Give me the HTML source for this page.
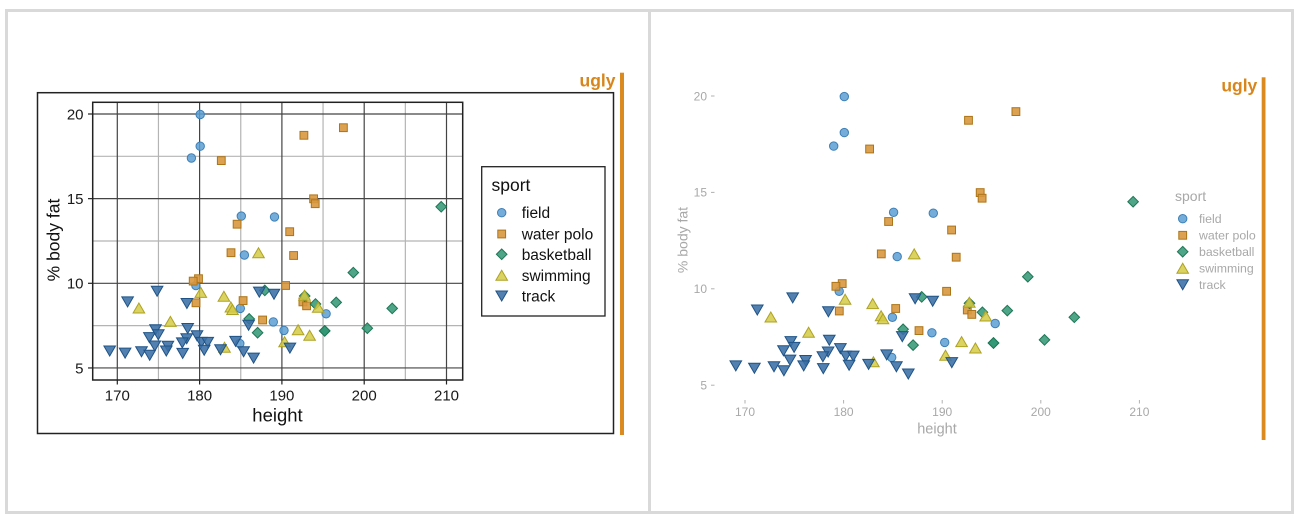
<!DOCTYPE html>
<html><head><meta charset="utf-8"><style>
html,body{margin:0;padding:0;background:#fff;}
svg{display:block;font-family:"Liberation Sans",sans-serif;}
</style></head><body>
<svg width="1301" height="517" viewBox="0 0 1301 517" xmlns="http://www.w3.org/2000/svg">
<defs>
<circle id="c" r="4.2"/>
<rect id="s" x="-3.9" y="-3.9" width="7.8" height="7.8"/>
<path id="d" d="M0,-5.3 L5.3,0 L0,5.3 L-5.3,0Z"/>
<path id="u" d="M0,-5 L5.8,5 L-5.8,5Z"/>
<path id="t" d="M-5.8,-5 L5.8,-5 L0,5Z"/>
</defs>
<rect x="0" y="0" width="1301" height="517" fill="#fff"/>
<rect x="6.5" y="10.5" width="1286" height="502" fill="none" stroke="#d9d9d9" stroke-width="3"/>
<line x1="649.5" y1="9" x2="649.5" y2="514" stroke="#d9d9d9" stroke-width="3"/>

<!-- LEFT PANEL -->
<rect x="37.5" y="92.7" width="576" height="340.8" fill="none" stroke="#222" stroke-width="1.5"/>
<g stroke="#b4b4b4" stroke-width="1.2">
<line x1="158.45" y1="102.3" x2="158.45" y2="380"/>
<line x1="240.75" y1="102.3" x2="240.75" y2="380"/>
<line x1="323.05" y1="102.3" x2="323.05" y2="380"/>
<line x1="405.35" y1="102.3" x2="405.35" y2="380"/>
<line x1="92.7" y1="156.3" x2="462.7" y2="156.3"/>
<line x1="92.7" y1="241" x2="462.7" y2="241"/>
<line x1="92.7" y1="325.6" x2="462.7" y2="325.6"/>
</g>
<g stroke="#444" stroke-width="1.2">
<line x1="117.3" y1="102.3" x2="117.3" y2="380"/>
<line x1="199.6" y1="102.3" x2="199.6" y2="380"/>
<line x1="281.9" y1="102.3" x2="281.9" y2="380"/>
<line x1="364.2" y1="102.3" x2="364.2" y2="380"/>
<line x1="446.5" y1="102.3" x2="446.5" y2="380"/>
<line x1="92.7" y1="114" x2="462.7" y2="114"/>
<line x1="92.7" y1="198.65" x2="462.7" y2="198.65"/>
<line x1="92.7" y1="283.3" x2="462.7" y2="283.3"/>
<line x1="92.7" y1="367.95" x2="462.7" y2="367.95"/>
</g>
<rect x="92.7" y="102.3" width="370" height="277.7" fill="none" stroke="#222" stroke-width="1.5"/>
<g stroke="#222" stroke-width="1.2">
<line x1="88" y1="114" x2="92.7" y2="114"/>
<line x1="88" y1="198.65" x2="92.7" y2="198.65"/>
<line x1="88" y1="283.3" x2="92.7" y2="283.3"/>
<line x1="88" y1="367.95" x2="92.7" y2="367.95"/>
<line x1="117.3" y1="380" x2="117.3" y2="384.5"/>
<line x1="199.6" y1="380" x2="199.6" y2="384.5"/>
<line x1="281.9" y1="380" x2="281.9" y2="384.5"/>
<line x1="364.2" y1="380" x2="364.2" y2="384.5"/>
<line x1="446.5" y1="380" x2="446.5" y2="384.5"/>
</g>
<g font-size="15" fill="#1a1a1a" text-anchor="end">
<text x="83.5" y="119.3">20</text>
<text x="83.5" y="204">15</text>
<text x="83.5" y="288.6">10</text>
<text x="83.5" y="373.3">5</text>
</g>
<g font-size="15" fill="#1a1a1a" text-anchor="middle">
<text x="117.3" y="400.5">170</text>
<text x="199.6" y="400.5">180</text>
<text x="281.9" y="400.5">190</text>
<text x="364.2" y="400.5">200</text>
<text x="446.5" y="400.5">210</text>
</g>
<text x="277.5" y="421.5" font-size="18.5" fill="#111" text-anchor="middle">height</text>
<text transform="translate(59.5,240) rotate(-90)" font-size="17.5" fill="#111" text-anchor="middle">% body fat</text>

<!-- left points -->
<g fill="#5d9fd3" fill-opacity="0.85" stroke="#3d7fb6" stroke-width="1">
<use href="#c" x="200.2" y="114.5"/><use href="#c" x="200.2" y="146.2"/><use href="#c" x="191.4" y="158"/>
<use href="#c" x="241.3" y="216.1"/><use href="#c" x="274.5" y="216.9"/><use href="#c" x="244.4" y="255"/>
<use href="#c" x="195.9" y="285.5"/><use href="#c" x="240.3" y="308.4"/><use href="#c" x="326.1" y="313.8"/>
<use href="#c" x="273.3" y="321.9"/><use href="#c" x="284" y="330.4"/><use href="#c" x="239.8" y="343.6"/>
</g>
<g fill="#d8983f" fill-opacity="0.9" stroke="#ad7418" stroke-width="1">
<use href="#s" x="343.4" y="127.7"/><use href="#s" x="303.9" y="135.3"/><use href="#s" x="221.3" y="160.6"/>
<use href="#s" x="313.6" y="198.8"/><use href="#s" x="315.2" y="203.7"/><use href="#s" x="237.1" y="224.2"/>
<use href="#s" x="289.7" y="231.7"/><use href="#s" x="231" y="252.7"/><use href="#s" x="293.6" y="255.5"/>
<use href="#s" x="198.5" y="278.7"/><use href="#s" x="193.2" y="281.1"/><use href="#s" x="285.6" y="285.5"/>
<use href="#s" x="196" y="302.8"/><use href="#s" x="243.1" y="300.6"/><use href="#s" x="302.9" y="301.9"/>
<use href="#s" x="306.6" y="305.8"/><use href="#s" x="262.6" y="320"/>
</g>
<g fill="#2f9572" fill-opacity="0.85" stroke="#1e7656" stroke-width="1">
<use href="#d" x="441.2" y="206.8"/><use href="#d" x="353.3" y="272.6"/><use href="#d" x="264.8" y="290.4"/>
<use href="#d" x="304.7" y="296"/><use href="#d" x="315.5" y="304"/><use href="#d" x="336.2" y="302.4"/>
<use href="#d" x="392.2" y="308.4"/><use href="#d" x="249.2" y="318.9"/><use href="#d" x="257.6" y="332.7"/>
<use href="#d" x="367.3" y="328.2"/><use href="#d" x="324.7" y="330.9"/><use href="#d" x="324.7" y="330.9"/>
</g>
<g fill="#d3ca45" fill-opacity="0.85" stroke="#aea223" stroke-width="1">
<use href="#u" x="258.5" y="252.7"/><use href="#u" x="200.8" y="292.4"/><use href="#u" x="223.9" y="296.3"/>
<use href="#u" x="138.9" y="308"/><use href="#u" x="230.9" y="307"/><use href="#u" x="232.5" y="309.5"/>
<use href="#u" x="304.5" y="295.2"/><use href="#u" x="318.2" y="307.2"/><use href="#u" x="170.4" y="321.4"/>
<use href="#u" x="298.1" y="329.7"/><use href="#u" x="309.6" y="335.3"/><use href="#u" x="284.6" y="341.7"/>
<use href="#u" x="224.5" y="347.3"/>
</g>
<g fill="#3a70a6" fill-opacity="0.88" stroke="#1f5386" stroke-width="1">
<use href="#t" x="157.1" y="291.3"/><use href="#t" x="127.6" y="301.9"/><use href="#t" x="186.9" y="303.5"/>
<use href="#t" x="259.3" y="292.1"/><use href="#t" x="274" y="294.3"/><use href="#t" x="155.5" y="329.7"/>
<use href="#t" x="187.7" y="328.5"/><use href="#t" x="149.4" y="337.6"/><use href="#t" x="158.3" y="334.8"/>
<use href="#t" x="197" y="335.8"/><use href="#t" x="186.7" y="338.8"/><use href="#t" x="248.6" y="325.3"/>
<use href="#t" x="182.3" y="342.9"/><use href="#t" x="201.4" y="342.4"/><use href="#t" x="207.7" y="342.4"/>
<use href="#t" x="235.6" y="341.4"/><use href="#t" x="154.8" y="346"/><use href="#t" x="167.9" y="346.3"/>
<use href="#t" x="109.7" y="351"/><use href="#t" x="125.1" y="353.1"/><use href="#t" x="141.5" y="351.7"/>
<use href="#t" x="149.7" y="355.3"/><use href="#t" x="166.3" y="351"/><use href="#t" x="182.7" y="353.4"/>
<use href="#t" x="204.2" y="350.3"/><use href="#t" x="220.5" y="349.7"/><use href="#t" x="243.6" y="351.7"/>
<use href="#t" x="253.6" y="358.1"/><use href="#t" x="289.9" y="348.1"/>
</g>

<!-- left legend -->
<rect x="481.7" y="166.7" width="123.3" height="149.3" fill="#fff" stroke="#222" stroke-width="1.3"/>
<text x="491.5" y="191" font-size="17.5" fill="#111">sport</text>
<use href="#c" x="501.7" y="212.7" fill="#5d9fd3" fill-opacity="0.85" stroke="#3d7fb6"/>
<use href="#s" x="501.7" y="234" fill="#d8983f" fill-opacity="0.9" stroke="#ad7418"/>
<use href="#d" x="501.7" y="254.3" fill="#2f9572" fill-opacity="0.85" stroke="#1e7656"/>
<use href="#u" x="501.7" y="275.3" fill="#d3ca45" fill-opacity="0.85" stroke="#aea223"/>
<use href="#t" x="501.7" y="296" fill="#3a70a6" fill-opacity="0.88" stroke="#1f5386"/>
<g font-size="15.5" fill="#111">
<text x="521.7" y="218.2">field</text>
<text x="521.7" y="239.5">water polo</text>
<text x="521.7" y="259.8">basketball</text>
<text x="521.7" y="280.8">swimming</text>
<text x="521.7" y="301.5">track</text>
</g>
<text x="615.5" y="86.5" font-size="17.5" font-weight="bold" fill="#d8861c" text-anchor="end">ugly</text>
<rect x="620" y="72.7" width="4" height="362.3" fill="#da8a1f"/>

<!-- RIGHT PANEL -->
<g stroke="#b0b0b0" stroke-width="1">
<line x1="711" y1="96" x2="714.5" y2="96"/>
<line x1="711" y1="192.4" x2="714.5" y2="192.4"/>
<line x1="711" y1="288.8" x2="714.5" y2="288.8"/>
<line x1="711" y1="385.2" x2="714.5" y2="385.2"/>
<line x1="745" y1="400" x2="745" y2="403.5"/>
<line x1="843.6" y1="400" x2="843.6" y2="403.5"/>
<line x1="942.2" y1="400" x2="942.2" y2="403.5"/>
<line x1="1040.8" y1="400" x2="1040.8" y2="403.5"/>
<line x1="1139.4" y1="400" x2="1139.4" y2="403.5"/>
</g>
<g font-size="12" fill="#a8a8a8" text-anchor="end">
<text x="707" y="100.3">20</text>
<text x="707" y="196.7">15</text>
<text x="707" y="293.1">10</text>
<text x="707" y="389.5">5</text>
</g>
<g font-size="12" fill="#a8a8a8" text-anchor="middle">
<text x="745" y="416">170</text>
<text x="843.6" y="416">180</text>
<text x="942.2" y="416">190</text>
<text x="1040.8" y="416">200</text>
<text x="1139.4" y="416">210</text>
</g>
<text x="937" y="433.5" font-size="14.5" fill="#a8a8a8" text-anchor="middle">height</text>
<text transform="translate(687.5,240) rotate(-90)" font-size="14" fill="#a8a8a8" text-anchor="middle">% body fat</text>

<g fill="#5d9fd3" fill-opacity="0.85" stroke="#3d7fb6" stroke-width="1">
<use href="#c" x="844.3" y="96.6"/><use href="#c" x="844.3" y="132.6"/><use href="#c" x="833.7" y="146.1"/>
<use href="#c" x="893.6" y="212.3"/><use href="#c" x="933.3" y="213.2"/><use href="#c" x="897.2" y="256.6"/>
<use href="#c" x="839.2" y="291.3"/><use href="#c" x="892.4" y="317.3"/><use href="#c" x="995.2" y="323.5"/>
<use href="#c" x="931.9" y="332.8"/><use href="#c" x="944.7" y="342.4"/><use href="#c" x="891.7" y="357.4"/>
</g>
<g fill="#d8983f" fill-opacity="0.9" stroke="#ad7418" stroke-width="1">
<use href="#s" x="1015.9" y="111.6"/><use href="#s" x="968.5" y="120.3"/><use href="#s" x="869.6" y="149"/>
<use href="#s" x="980.2" y="192.6"/><use href="#s" x="982.1" y="198.2"/><use href="#s" x="888.6" y="221.5"/>
<use href="#s" x="951.6" y="230"/><use href="#s" x="881.3" y="253.9"/><use href="#s" x="956.2" y="257.2"/>
<use href="#s" x="842.2" y="283.6"/><use href="#s" x="835.9" y="286.3"/><use href="#s" x="946.6" y="291.3"/>
<use href="#s" x="839.3" y="311"/><use href="#s" x="895.7" y="308.5"/><use href="#s" x="967.3" y="310"/>
<use href="#s" x="971.8" y="314.4"/><use href="#s" x="919" y="330.6"/>
</g>
<g fill="#2f9572" fill-opacity="0.85" stroke="#1e7656" stroke-width="1">
<use href="#d" x="1133.1" y="201.7"/><use href="#d" x="1027.8" y="276.7"/><use href="#d" x="921.7" y="296.9"/>
<use href="#d" x="969.5" y="303.3"/><use href="#d" x="982.4" y="312.3"/><use href="#d" x="1007.3" y="310.6"/>
<use href="#d" x="1074.3" y="317.3"/><use href="#d" x="903.1" y="329.3"/><use href="#d" x="913.1" y="345.1"/>
<use href="#d" x="1044.5" y="339.9"/><use href="#d" x="993.5" y="343"/><use href="#d" x="993.5" y="343"/>
</g>
<g fill="#d3ca45" fill-opacity="0.85" stroke="#aea223" stroke-width="1">
<use href="#u" x="914.2" y="253.9"/><use href="#u" x="845.1" y="299.2"/><use href="#u" x="872.7" y="303.6"/>
<use href="#u" x="770.8" y="317"/><use href="#u" x="881.1" y="315.8"/><use href="#u" x="883" y="318.7"/>
<use href="#u" x="969.3" y="302.3"/><use href="#u" x="985.7" y="316"/><use href="#u" x="808.6" y="332.2"/>
<use href="#u" x="961.6" y="341.6"/><use href="#u" x="975.4" y="348"/><use href="#u" x="945.5" y="355.3"/>
<use href="#u" x="873.4" y="361.7"/>
</g>
<g fill="#3a70a6" fill-opacity="0.88" stroke="#1f5386" stroke-width="1">
<use href="#t" x="792.7" y="297.9"/><use href="#t" x="757.3" y="310"/><use href="#t" x="828.4" y="311.7"/>
<use href="#t" x="915.1" y="298.8"/><use href="#t" x="932.7" y="301.3"/><use href="#t" x="790.8" y="341.6"/>
<use href="#t" x="829.3" y="340.3"/><use href="#t" x="783.5" y="350.7"/><use href="#t" x="794.1" y="347.4"/>
<use href="#t" x="840.4" y="348.6"/><use href="#t" x="828.1" y="352"/><use href="#t" x="902.3" y="336.6"/>
<use href="#t" x="822.9" y="356.7"/><use href="#t" x="845.8" y="356.1"/><use href="#t" x="853.3" y="356.1"/>
<use href="#t" x="886.7" y="354.9"/><use href="#t" x="790" y="360.1"/><use href="#t" x="805.6" y="360.5"/>
<use href="#t" x="735.8" y="365.9"/><use href="#t" x="754.4" y="368.2"/><use href="#t" x="774" y="366.7"/>
<use href="#t" x="783.9" y="370.7"/><use href="#t" x="803.7" y="365.9"/><use href="#t" x="823.3" y="368.6"/>
<use href="#t" x="849.1" y="365.2"/><use href="#t" x="868.6" y="364.4"/><use href="#t" x="896.4" y="366.7"/>
<use href="#t" x="908.3" y="374"/><use href="#t" x="951.8" y="362.6"/>
</g>

<!-- right legend -->
<text x="1175" y="201" font-size="14" fill="#a8a8a8">sport</text>
<use href="#c" x="1182.7" y="218.7" fill="#5d9fd3" fill-opacity="0.85" stroke="#3d7fb6"/>
<use href="#s" x="1182.7" y="235.3" fill="#d8983f" fill-opacity="0.9" stroke="#ad7418"/>
<use href="#d" x="1182.7" y="251.7" fill="#2f9572" fill-opacity="0.85" stroke="#1e7656"/>
<use href="#u" x="1182.7" y="268.3" fill="#d3ca45" fill-opacity="0.85" stroke="#aea223"/>
<use href="#t" x="1182.7" y="284.7" fill="#3a70a6" fill-opacity="0.88" stroke="#1f5386"/>
<g font-size="12.3" fill="#a8a8a8">
<text x="1199" y="223">field</text>
<text x="1199" y="239.6">water polo</text>
<text x="1199" y="256">basketball</text>
<text x="1199" y="272.6">swimming</text>
<text x="1199" y="289">track</text>
</g>
<text x="1257.3" y="91.5" font-size="17.5" font-weight="bold" fill="#d8861c" text-anchor="end">ugly</text>
<rect x="1261.7" y="77.3" width="3.8" height="362.7" fill="#da8a1f"/>
</svg>
</body></html>
